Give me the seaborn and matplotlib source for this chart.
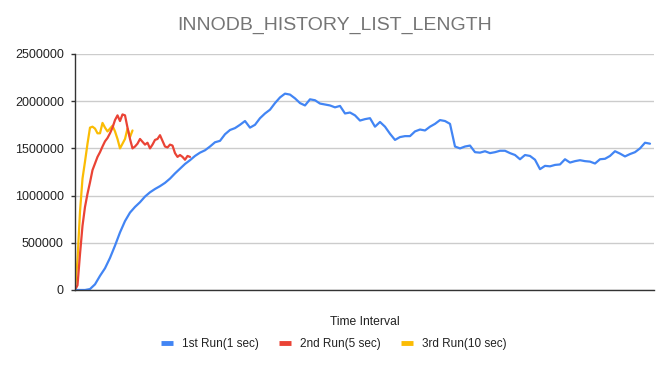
import matplotlib.pyplot as plt
import numpy as np
import pandas as pd
import seaborn as sns
from matplotlib.lines import Line2D

# history list length readings (blue sampled half as often as the other two on the shared axis)
run1_values = [
    0, 0, 0, 10000, 60000, 150000, 230000, 340000, 470000, 610000,
    730000, 820000, 880000, 930000, 990000, 1035000, 1070000, 1100000, 1135000, 1180000,
    1235000, 1285000, 1335000, 1375000, 1420000, 1455000, 1480000, 1520000, 1565000, 1580000,
    1650000, 1695000, 1715000, 1750000, 1790000, 1720000, 1750000, 1820000, 1870000, 1910000,
    1980000, 2040000, 2080000, 2070000, 2030000, 1980000, 1955000, 2020000, 2010000, 1975000,
    1965000, 1955000, 1935000, 1950000, 1870000, 1880000, 1850000, 1795000, 1810000, 1820000,
    1730000, 1780000, 1730000, 1655000, 1590000, 1620000, 1630000, 1630000, 1680000, 1700000,
    1690000, 1730000, 1760000, 1800000, 1790000, 1760000, 1520000, 1500000, 1520000, 1530000,
    1460000, 1455000, 1470000, 1450000, 1460000, 1475000, 1475000, 1450000, 1430000, 1385000,
    1430000, 1420000, 1380000, 1280000, 1315000, 1310000, 1325000, 1330000, 1385000, 1350000,
    1365000, 1375000, 1365000, 1360000, 1340000, 1385000, 1390000, 1420000, 1470000, 1445000,
    1415000, 1440000, 1460000, 1500000, 1560000, 1550000,
]
run2_values = [
    0, 50000, 380000, 680000, 880000, 1020000, 1140000, 1270000, 1340000, 1410000,
    1460000, 1520000, 1575000, 1610000, 1660000, 1720000, 1800000, 1850000, 1790000, 1860000,
    1850000, 1720000, 1600000, 1500000, 1520000, 1550000, 1600000, 1570000, 1540000, 1560000,
    1500000, 1540000, 1590000, 1600000, 1640000, 1580000, 1520000, 1510000, 1540000, 1530000,
    1450000, 1410000, 1430000, 1410000, 1380000, 1420000, 1410000,
]
run3_values = [
    0, 320000, 830000, 1180000, 1360000, 1550000, 1720000, 1730000, 1710000, 1660000,
    1660000, 1770000, 1720000, 1680000, 1710000, 1740000, 1680000, 1600000, 1500000, 1550000,
    1600000, 1710000, 1620000, 1690000,
]
run_names = ["1st Run(1 sec)", "2nd Run(5 sec)", "3rd Run(10 sec)"]
run_colors = ["#4285F4", "#EA4335", "#FBBC04"]
y_ticks = [0, 500000, 1000000, 1500000, 2000000, 2500000]

frames = [
    pd.DataFrame({"time": np.arange(len(run1_values)) * 2, "length": run1_values, "run": run_names[0]}),
    pd.DataFrame({"time": np.arange(len(run2_values)), "length": run2_values, "run": run_names[1]}),
    pd.DataFrame({"time": np.arange(len(run3_values)), "length": run3_values, "run": run_names[2]}),
]
data = pd.concat(frames, ignore_index=True)

sns.set_theme(style="white")
plt.rcParams["font.family"] = ["Liberation Sans", "DejaVu Sans"]

fig = plt.figure(figsize=(6.65, 3.66), dpi=100)
ax = fig.add_axes([75 / 665, 76 / 366, 579 / 665, 236 / 366])

sns.lineplot(
    data=data,
    x="time",
    y="length",
    hue="run",
    hue_order=run_names[::-1],
    palette=dict(zip(run_names, run_colors)),
    linewidth=1.6,
    legend=False,
    ax=ax,
)

ax.set_xlim(0, 231.6)
ax.set_ylim(0, 2500000)
ax.set_yticks(y_ticks)
ax.set_yticklabels([str(v) for v in y_ticks], fontsize=9, color="#222222")
ax.set_xticks([])
ax.yaxis.grid(True, color="#cccccc", linewidth=1)
ax.set_axisbelow(True)
ax.tick_params(axis="y", left=True, length=3, width=1, color="#333333", pad=5)
for side in ["top", "right"]:
    ax.spines[side].set_visible(False)
for side in ["left", "bottom"]:
    ax.spines[side].set_color("#333333")
    ax.spines[side].set_linewidth(1)
ax.set_xlabel("Time Interval", fontsize=8.7, color="#222222", labelpad=19)
ax.set_ylabel("")

fig.text(335 / 665, 1 - 25 / 366, "INNODB_HISTORY_LIST_LENGTH",
         ha="center", va="center", fontsize=14, color="#757575")

handles = [Line2D([0], [0], color=c, lw=3.5, solid_capstyle="butt") for c in run_colors]
fig.legend(handles, run_names, loc="center", bbox_to_anchor=(334 / 665, 1 - 344 / 366),
           ncol=3, frameon=False, fontsize=8.5, handlelength=1.0, handletextpad=0.8,
           columnspacing=1.7, labelcolor="#222222")

fig.savefig("out.png", dpi=100)
